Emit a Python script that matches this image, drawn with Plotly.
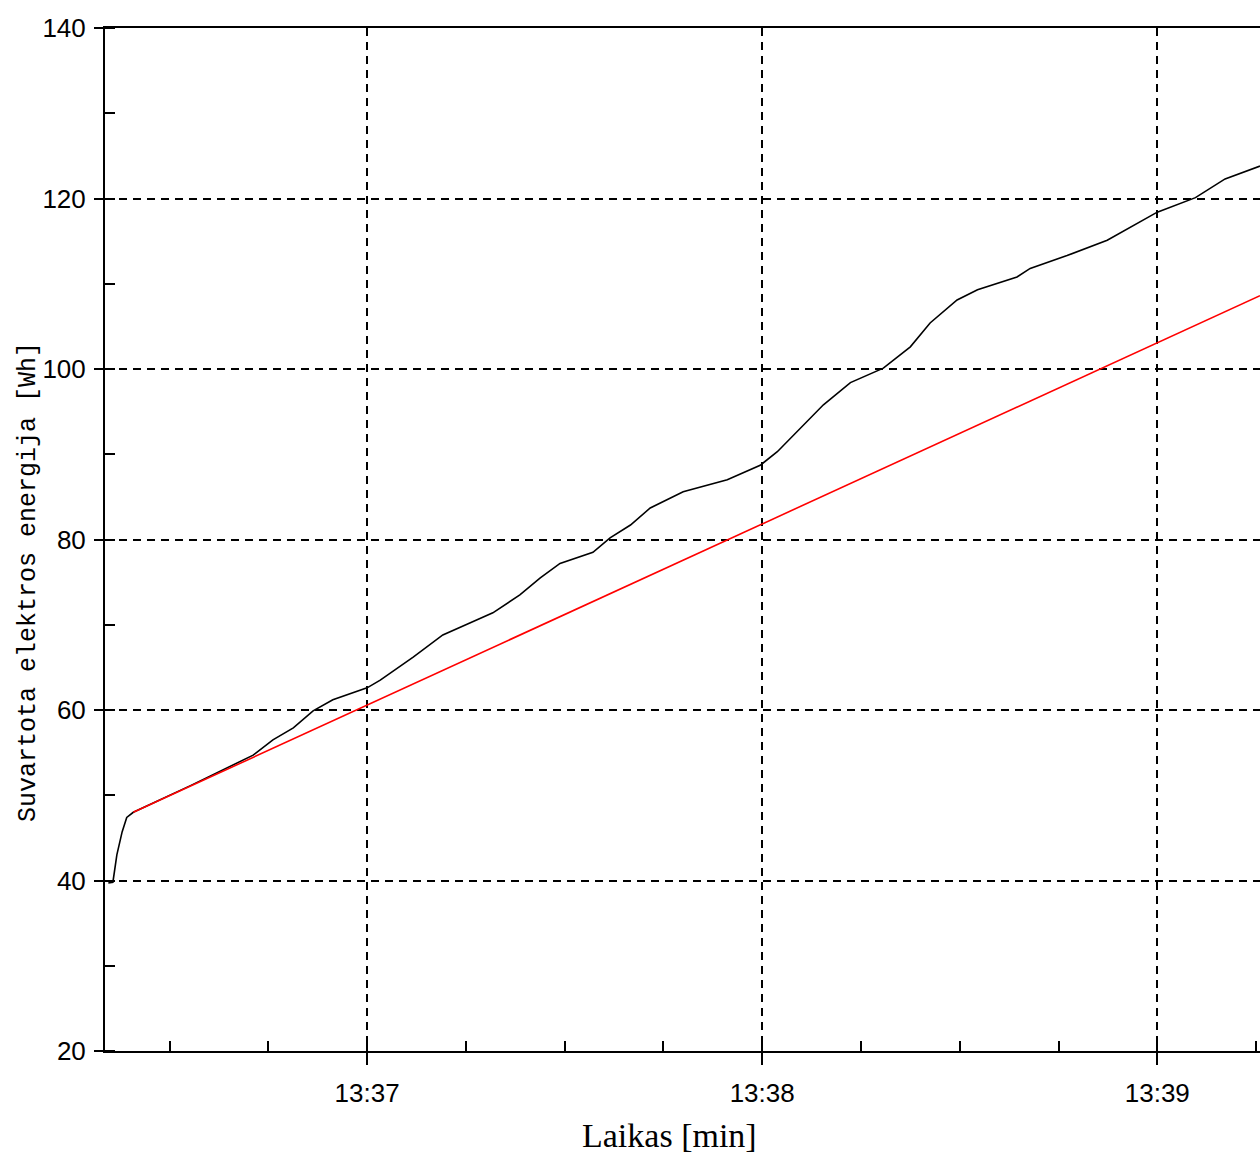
import pandas as pd
import plotly.graph_objects as go

# Time as seconds relative to 13:37:00
base = pd.Timestamp("2024-01-01 13:37:00")

measured_t = [-39.3, -38.6, -38.0, -37.2, -36.5, -35.5, -26.9, -17.3, -14.3, -11.2, -8.2, -5.2,
              0.0, 2.0, 7.0, 11.5, 15.6, 19.1, 23.2, 26.3, 29.3, 34.3, 36.9, 40.0, 43.0,
              48.0, 54.7, 59.7, 62.3, 66.2, 69.3, 73.4, 78.4, 82.5, 85.5, 89.6, 92.7,
              98.7, 100.7, 106.3, 112.4, 120.0, 125.8, 130.3, 135.6]
measured_v = [39.7, 39.8, 43.0, 45.7, 47.4, 48.0, 51.1, 54.7, 56.5, 57.9, 59.9, 61.2,
              62.6, 63.5, 66.2, 68.8, 70.2, 71.4, 73.5, 75.5, 77.2, 78.5, 80.2, 81.7, 83.7,
              85.6, 87.0, 88.7, 90.3, 93.4, 95.8, 98.4, 100.1, 102.6, 105.4, 108.1, 109.3,
              110.8, 111.8, 113.3, 115.1, 118.4, 120.1, 122.3, 123.8]

fit_t = [-35.5, 135.6]
fit_v = [48.0, 108.6]

x_range_t = [-39.8, 135.6]
y_range = [20, 140]

x_title = "Laikas [min]"
y_title = "Suvartota elektros energija [Wh]"


def to_time(ts):
    return [base + pd.Timedelta(seconds=s) for s in ts]


fig = go.Figure()
fig.add_trace(go.Scatter(x=to_time(measured_t), y=measured_v, mode="lines",
                         line=dict(color="black", width=1.6), hoverinfo="skip",
                         showlegend=False))
fig.add_trace(go.Scatter(x=to_time(fit_t), y=fit_v, mode="lines",
                         line=dict(color="#ff0000", width=1.6), hoverinfo="skip",
                         showlegend=False))

tick_font = dict(family="Liberation Sans, Arial, sans-serif", size=26, color="black")

fig.update_layout(
    width=1260, height=1156,
    margin=dict(l=105, r=0, t=28, b=105),
    paper_bgcolor="white", plot_bgcolor="white",
    xaxis=dict(
        type="date",
        range=to_time(x_range_t),
        tickformat="%H:%M",
        tick0=base, dtick=60000,
        showline=True, linecolor="black", linewidth=2, mirror=True,
        ticks="outside", ticklen=12, tickwidth=1.5, tickcolor="black",
        showgrid=True, gridcolor="black", gridwidth=1.5, griddash="8px,6px",
        tickfont=tick_font, ticklabelstandoff=6,
        minor=dict(dtick=15000, tick0=base, ticks="inside", ticklen=10,
                   tickwidth=1.5, tickcolor="black", showgrid=False),
        zeroline=False,
    ),
    yaxis=dict(
        range=y_range, dtick=20, tick0=20,
        showline=True, linecolor="black", linewidth=2, mirror=False,
        ticks="outside", ticklen=9, tickwidth=1.5, tickcolor="black",
        showgrid=True, gridcolor="black", gridwidth=1.5, griddash="8px,6px",
        tickfont=tick_font, ticklabelstandoff=3,
        minor=dict(dtick=10, tick0=20, ticks="inside", ticklen=10,
                   tickwidth=1.5, tickcolor="black", showgrid=False),
        zeroline=False,
    ),
    annotations=[
        dict(text=x_title, xref="paper", yref="paper", x=(669 - 105) / 1155, y=-84 / 1023,
             xanchor="center", yanchor="middle", showarrow=False,
             font=dict(family="Liberation Serif, Times New Roman, serif", size=34, color="black")),
        dict(text=y_title, xref="paper", yref="paper", x=-77 / 1155, y=(1051 - 582) / 1023,
             xanchor="center", yanchor="middle", showarrow=False, textangle=-90,
             font=dict(family="Liberation Mono, Courier New, monospace", size=25, color="black")),
    ],
)

fig.write_html("out.html")
